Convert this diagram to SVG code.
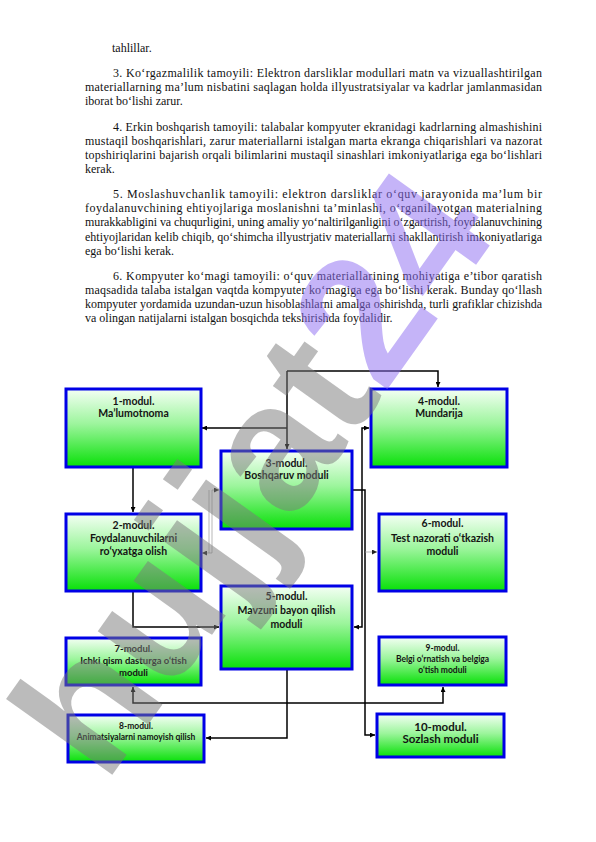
<svg xmlns="http://www.w3.org/2000/svg" width="596" height="842" viewBox="0 0 596 842">
<defs>
<linearGradient id="g" x1="0" y1="0" x2="0" y2="1">
<stop offset="0" stop-color="#f4fff4"/>
<stop offset="0.45" stop-color="#9cf59c"/>
<stop offset="1" stop-color="#08e008"/>
</linearGradient>
<marker id="a" viewBox="0 0 6 6" refX="6" refY="3" markerWidth="5" markerHeight="5" orient="auto-start-reverse" markerUnits="userSpaceOnUse">
<path d="M0,0 L6,3 L0,6 z" fill="#000"/>
</marker>
<marker id="ag" viewBox="0 0 6 6" refX="6" refY="3" markerWidth="5" markerHeight="5" orient="auto-start-reverse" markerUnits="userSpaceOnUse">
<path d="M0,0 L6,3 L0,6 z" fill="#222"/>
</marker>
</defs>
<style>
.p{font-family:"Liberation Serif","Times New Roman",serif;font-size:12px;fill:#111}
.b{fill:url(#g);stroke:#0000e6;stroke-width:3}
.t{font-family:Lato,"Liberation Sans",sans-serif;font-weight:bold;font-size:10.5px;fill:#141414;text-anchor:middle}
.s{font-size:8.5px}
.m{font-size:9.5px}
.l{font-size:11.5px}
.c{fill:none;stroke:#000;stroke-width:1.5}
.cg{fill:none;stroke:#999;stroke-width:0.7}
</style>
<rect width="596" height="842" fill="#fff"/>
<g id="text">
<text class="p" x="112" y="52">tahlillar.</text>
<text class="p" x="113" y="77" textLength="429" lengthAdjust="spacing">3. Ko‘rgazmalilik tamoyili: Elektron darsliklar modullari matn va vizuallashtirilgan</text>
<text class="p" x="85" y="91" textLength="457" lengthAdjust="spacing">materiallarning ma’lum nisbatini saqlagan holda illyustratsiyalar va kadrlar jamlanmasidan</text>
<text class="p" x="85" y="105">iborat bo‘lishi zarur.</text>
<text class="p" x="113" y="131" textLength="429" lengthAdjust="spacing">4. Erkin boshqarish tamoyili: talabalar kompyuter ekranidagi kadrlarning almashishini</text>
<text class="p" x="85" y="145" textLength="457" lengthAdjust="spacing">mustaqil boshqarishlari, zarur materiallarni istalgan marta ekranga chiqarishlari va nazorat</text>
<text class="p" x="85" y="159" textLength="457" lengthAdjust="spacing">topshiriqlarini bajarish orqali bilimlarini mustaqil sinashlari imkoniyatlariga ega bo‘lishlari</text>
<text class="p" x="85" y="173">kerak.</text>
<text class="p" x="113" y="198" textLength="429" lengthAdjust="spacing">5. Moslashuvchanlik tamoyili: elektron darsliklar o‘quv jarayonida ma’lum bir</text>
<text class="p" x="85" y="212" textLength="457" lengthAdjust="spacing">foydalanuvchining ehtiyojlariga moslanishni ta’minlashi, o‘rganilayotgan materialning</text>
<text class="p" x="85" y="226" textLength="457" lengthAdjust="spacing">murakkabligini va chuqurligini, uning amaliy yo‘naltirilganligini o‘zgartirish, foydalanuvchining</text>
<text class="p" x="85" y="241" textLength="457" lengthAdjust="spacing">ehtiyojlaridan kelib chiqib, qo‘shimcha illyustrjativ materiallarni shakllantirish imkoniyatlariga</text>
<text class="p" x="85" y="255">ega bo‘lishi kerak.</text>
<text class="p" x="113" y="280" textLength="429" lengthAdjust="spacing">6. Kompyuter ko‘magi tamoyili: o‘quv materiallarining mohiyatiga e’tibor qaratish</text>
<text class="p" x="85" y="294" textLength="457" lengthAdjust="spacing">maqsadida talaba istalgan vaqtda kompyuter ko‘magiga ega bo‘lishi kerak. Bunday qo‘llash</text>
<text class="p" x="85" y="308" textLength="457" lengthAdjust="spacing">kompyuter yordamida uzundan-uzun hisoblashlarni amalga oshirishda, turli grafiklar chizishda</text>
<text class="p" x="85" y="322">va olingan natijalarni istalgan bosqichda tekshirishda foydalidir.</text>
</g>
<g id="connectors">
<path class="c" d="M287,428 H202" marker-end="url(#a)"/>
<path class="c" d="M287,371 V449" marker-end="url(#a)"/>
<path class="c" d="M287,371 H438 V387" marker-end="url(#a)"/>
<path class="c" d="M133,467 V512" marker-end="url(#a)"/>
<path class="c" d="M133,591 V627 H219" marker-end="url(#a)"/>
<path class="cg" d="M202,553 H212 V490 H219" marker-start="url(#ag)" marker-end="url(#ag)"/>
<path class="cg" d="M209,553 V490"/>
<path class="c" d="M369,428 H362 V627 H354" marker-start="url(#a)" marker-end="url(#a)"/>
<path class="c" d="M352,490 H365 V735 H375" marker-end="url(#a)"/>
<path class="cg" d="M365,552 H377" marker-end="url(#ag)"/>
<path class="c" d="M287,669 V738 H206" marker-end="url(#a)"/>
<path class="c" d="M133,687 V703 H443 V687" marker-start="url(#a)" marker-end="url(#a)"/>
</g>
<g id="m1"><rect class="b" x="66" y="389" width="135" height="78"/><text class="t" x="133.5" y="405">1-modul.</text><text class="t" x="133.5" y="417">Ma’lumotnoma</text></g>
<g id="m4"><rect class="b" x="371" y="389" width="136" height="78"/><text class="t" x="439" y="405">4-modul.</text><text class="t" x="439" y="417">Mundarija</text></g>
<g id="m3"><rect class="b" x="221" y="451" width="131" height="78"/><text class="t" x="286.5" y="467">3-modul.</text><text class="t" x="286.5" y="479">Boshqaruv moduli</text></g>
<g id="m2"><rect class="b" x="66" y="514" width="135" height="77"/><text class="t" x="133.5" y="529">2-modul.</text><text class="t" x="133.5" y="542">Foydalanuvchilarni</text><text class="t" x="133.5" y="555">ro‘yxatga olish</text></g>
<g id="m6"><rect class="b" x="379" y="514" width="127" height="77"/><text class="t" x="442.5" y="527">6-modul.</text><text class="t" x="442.5" y="542">Test nazorati o‘tkazish</text><text class="t" x="442.5" y="555">moduli</text></g>
<g id="m5"><rect class="b" x="221" y="586" width="131" height="83"/><text class="t" x="286.5" y="600">5-modul.</text><text class="t" x="286.5" y="614">Mavzuni bayon qilish</text><text class="t" x="286.5" y="628">moduli</text></g>
<g id="m7"><rect class="b" x="66" y="638" width="135" height="47"/><text class="t m" x="133.5" y="652">7-modul.</text><text class="t m" x="133.5" y="664">Ichki qism dasturga o‘tish</text><text class="t m" x="133.5" y="676">moduli</text></g>
<g id="m9"><rect class="b" x="379" y="637" width="127" height="48"/><text class="t s" x="442.5" y="651">9-modul.</text><text class="t s" x="442.5" y="662">Belgi o‘rnatish va belgiga</text><text class="t s" x="442.5" y="673">o‘tish moduli</text></g>
<g id="m8"><rect class="b" x="68" y="715" width="136" height="47"/><text class="t s" x="136" y="729">8-modul.</text><text class="t s" x="136" y="740">Animatsiyalarni namoyish qilish</text></g>
<g id="m10"><rect class="b" x="377" y="714" width="127" height="43"/><text class="t l" x="440.5" y="731">10-modul.</text><text class="t l" x="440.5" y="743">Sozlash moduli</text></g>
<g id="watermark" opacity="0.5">
<text transform="translate(105,785) rotate(-54.5)" font-family="Liberation Sans, sans-serif" font-weight="bold" font-size="180"><tspan fill="#7a7a7a">hujjat</tspan><tspan fill="#8c6cf2">24</tspan></text>
</g>
</svg>
